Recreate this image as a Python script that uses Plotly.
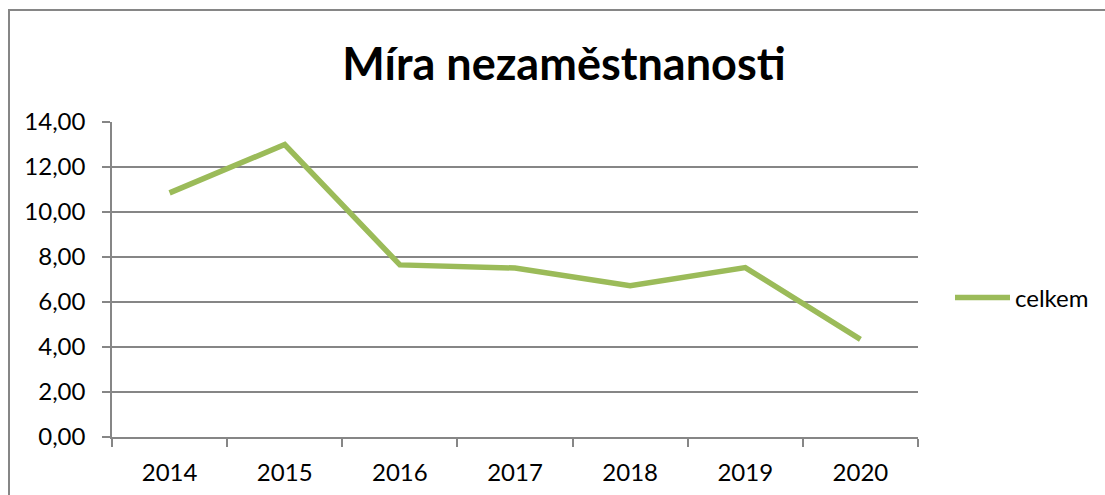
import plotly.graph_objects as go

years = ["2014", "2015", "2016", "2017", "2018", "2019", "2020"]
celkem = [10.85, 13.0, 7.65, 7.51, 6.72, 7.53, 4.34]
y_ticks = [0, 2, 4, 6, 8, 10, 12, 14]

W, H = 1105, 495
L, R, T, B = 112, 918, 122, 437

fig = go.Figure()
fig.add_trace(go.Scatter(
    x=years, y=celkem, mode="lines", name="celkem",
    line=dict(color="#9BBB59", width=5.5),
))

grid = "#868686"
font = "Lato"

fig.update_layout(
    width=W, height=H,
    margin=dict(l=L, r=W - R, t=T, b=H - B, autoexpand=False),
    paper_bgcolor="white", plot_bgcolor="white",
    separators=", ",
    font=dict(family=font, size=24, color="black"),
    title=dict(text="<b>Míra nezaměstnanosti</b>", font=dict(family=font, size=45, color="black"),
               x=564 / W, xref="container", xanchor="center",
               y=1 - 64 / H, yref="container", yanchor="middle"),
    showlegend=True,
    legend=dict(x=(950 - L) / (R - L), xanchor="left", y=(B - 298) / (B - T), yanchor="middle",
                font=dict(family=font, size=24, color="black"), itemwidth=55,
                bgcolor="rgba(0,0,0,0)"),
    xaxis=dict(type="category", range=[-0.5, len(years) - 0.5], showgrid=False, showline=True,
               linecolor=grid, linewidth=1.5, automargin=False,
               ticks="outside", tickson="boundaries", ticklen=8, tickcolor=grid, tickwidth=1.5,
               ticklabelstandoff=13, zeroline=False),
    yaxis=dict(range=[0, 14], tickvals=y_ticks, tickformat=".2f", showgrid=True, gridcolor=grid,
               gridwidth=1.5, showline=True, linecolor=grid, linewidth=1.5, ticks="outside",
               automargin=False,
               ticklen=8, tickcolor=grid, tickwidth=1.5, zeroline=False, ticklabelstandoff=12),
)

# outer chart border
fig.add_shape(type="rect", xref="paper", yref="paper",
              x0=(9 - L) / (R - L), x1=(1112 - L) / (R - L),
              y0=(B - 505) / (B - T), y1=(B - 10) / (B - T),
              line=dict(color=grid, width=2), fillcolor="rgba(0,0,0,0)", layer="below")

fig.write_html("out.html", config={"displayModeBar": False},
               post_script="document.body.style.margin='0';")
